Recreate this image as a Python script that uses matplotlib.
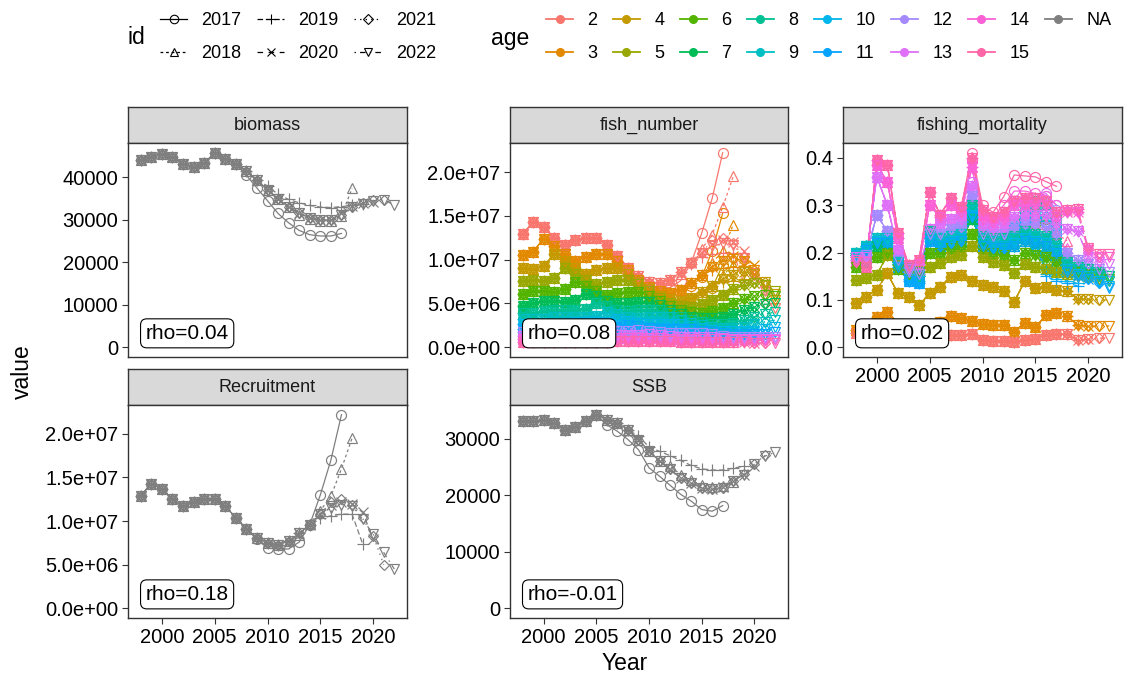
import matplotlib
matplotlib.use('Agg')
import matplotlib.pyplot as plt
from matplotlib.lines import Line2D
from matplotlib.ticker import FuncFormatter

plt.rcParams['font.family'] = ['Liberation Sans', 'DejaVu Sans']
plt.rcParams['lines.scale_dashes'] = False

# ---------------- data ----------------
years = list(range(1998, 2023))
peels = [2017, 2018, 2019, 2020, 2021, 2022]
ages = list(range(2, 16))

rho_text = {'biomass': 'rho=0.04', 'fish_number': 'rho=0.08',
            'fishing_mortality': 'rho=0.02', 'Recruitment': 'rho=0.18',
            'SSB': 'rho=-0.01'}

# base = 2022 run (1998-2022); tails = values of a peel for its last years
biomass_base = [44100, 44900, 45400, 44800, 43200, 42400, 43300, 45800, 44300, 43200,
                41500, 39300, 37000, 34900, 33000, 31500, 30500, 29900, 29900, 31200,
                33000, 33800, 34500, 34700, 33500]
biomass_tails = {
    2017: [40500, 37500, 34500, 31500, 29300, 27500, 26500, 26200, 26200, 26800],
    2018: [33000, 31200, 30200, 29800, 29800, 31000, 37400],
    2019: [38000, 36000, 34800, 34000, 33400, 33000, 32900, 33100, 33400, 33800],
    2020: [30000, 31500, 33200, 33900, 34300],
    2021: [33900, 34600, 34600],
}

ssb_base = [33100, 33200, 33300, 32800, 31650, 32200, 33100, 34300, 33400, 32800,
            31650, 29900, 27800, 26060, 24600, 23100, 22200, 21350, 21060, 21350,
            22500, 23700, 25500, 26950, 27650]
ssb_tails = {
    2017: [32500, 31350, 29900, 28100, 24900, 23400, 21800, 20200, 19000, 17500, 17200, 18200],
    2018: [25200, 23700, 22700, 21800, 21500, 21700, 22300],
    2019: [30500, 28600, 27800, 27050, 26200, 25300, 24700, 24500, 24500, 24800, 25200],
    2020: [21500, 22600, 23600, 25200],
    2021: [23800, 25500, 27100],
}

# recruitment (= fish_number at age 2), millions
recruit_base = [12.9, 14.3, 13.7, 12.5, 11.7, 12.2, 12.5, 12.5, 11.7, 10.4, 9.1, 8.1, 7.5,
                7.3, 7.7, 8.6, 9.6, 10.8, 11.5, 11.9, 11.7, 10.2, 8.5, 6.4, 4.5]
recruit_tails = {
    2017: [7.9, 6.9, 6.8, 6.8, 7.6, 9.6, 13.0, 17.0, 22.2],
    2018: [8.4, 9.7, 11.2, 12.85, 16.0, 19.5],
    2019: [9.5, 10.3, 10.6, 10.8, 10.8, 7.4],
    2020: [11.8, 12.2, 12.0, 11.0, 8.0],
    2021: [12.2, 12.5, 11.9, 10.3, 8.3, 5.0],
}

# fish numbers at age, millions (ages 3-15)
fish_base = {
    3: [10.5, 10.9, 12.4, 11.6, 10.6, 9.9, 10.3, 10.6, 10.6, 9.9, 8.8, 7.7, 6.9, 6.4, 6.2, 6.5, 7.3, 8.2, 9.2, 9.8, 10.1, 9.9, 8.8, 7.1, 5.4],
    4: [9.0, 8.9, 9.3, 10.6, 9.9, 9.0, 8.4, 8.8, 9.0, 9.0, 8.4, 7.5, 6.6, 5.9, 5.5, 5.3, 5.6, 6.3, 7.0, 7.8, 8.3, 8.6, 8.4, 7.5, 6.1],
    5: [7.6, 7.7, 7.6, 7.9, 9.0, 8.4, 7.7, 7.2, 7.5, 7.7, 7.7, 7.2, 6.4, 5.6, 5.0, 4.7, 4.6, 4.9, 5.4, 6.0, 6.6, 7.1, 7.3, 7.1, 6.4],
    6: [6.1, 6.4, 6.4, 6.3, 6.6, 7.4, 7.0, 6.4, 6.0, 6.2, 6.3, 6.3, 5.9, 5.3, 4.7, 4.2, 4.0, 3.9, 4.1, 4.5, 5.0, 5.5, 5.9, 6.0, 5.8],
    7: [4.7, 5.0, 5.3, 5.3, 5.2, 5.4, 6.1, 5.8, 5.3, 5.0, 5.1, 5.2, 5.2, 4.8, 4.3, 3.8, 3.5, 3.3, 3.3, 3.4, 3.8, 4.2, 4.6, 4.9, 5.0],
    8: [3.9, 3.9, 4.1, 4.3, 4.3, 4.3, 4.4, 5.0, 4.7, 4.3, 4.1, 4.2, 4.2, 4.2, 3.9, 3.5, 3.1, 2.9, 2.7, 2.7, 2.8, 3.1, 3.5, 3.8, 4.0],
    9: [3.2, 3.2, 3.2, 3.4, 3.5, 3.5, 3.5, 3.6, 4.0, 3.8, 3.5, 3.3, 3.4, 3.4, 3.4, 3.1, 2.8, 2.5, 2.3, 2.2, 2.2, 2.3, 2.6, 2.9, 3.1],
    10: [2.6, 2.6, 2.6, 2.6, 2.8, 2.9, 2.9, 2.9, 2.9, 3.2, 3.0, 2.8, 2.6, 2.7, 2.7, 2.7, 2.4, 2.2, 2.0, 1.8, 1.8, 1.8, 1.9, 2.1, 2.3],
    11: [2.1, 2.1, 2.1, 2.1, 2.1, 2.2, 2.3, 2.3, 2.3, 2.3, 2.5, 2.4, 2.2, 2.1, 2.1, 2.1, 2.1, 1.9, 1.7, 1.6, 1.5, 1.5, 1.5, 1.5, 1.7],
    12: [1.7, 1.7, 1.7, 1.7, 1.7, 1.7, 1.8, 1.8, 1.8, 1.8, 1.8, 2.0, 1.9, 1.7, 1.6, 1.6, 1.6, 1.6, 1.5, 1.3, 1.2, 1.2, 1.2, 1.2, 1.2],
    13: [1.3, 1.3, 1.3, 1.3, 1.3, 1.3, 1.3, 1.4, 1.4, 1.4, 1.4, 1.4, 1.5, 1.4, 1.3, 1.2, 1.2, 1.2, 1.2, 1.1, 1.0, 1.0, 1.0, 1.0, 1.0],
    14: [1.0, 1.0, 1.0, 1.0, 1.0, 1.0, 1.0, 1.0, 1.1, 1.1, 1.1, 1.1, 1.1, 1.1, 1.0, 1.0, 0.9, 0.9, 0.9, 0.9, 0.8, 0.8, 0.8, 0.8, 0.8],
    15: [0.6, 0.6, 0.6, 0.6, 0.6, 0.6, 0.6, 0.6, 0.6, 0.7, 0.7, 0.7, 0.7, 0.7, 0.7, 0.6, 0.6, 0.6, 0.6, 0.6, 0.6, 0.6, 0.5, 0.5, 0.5],
}
fish_tails = {
    3: {2017: [7.0, 8.0, 11.0, 15.3], 2018: [8.2, 9.6, 11.0, 14.0],
        2019: [8.8, 9.0, 9.2, 9.3], 2020: [10.0, 10.4, 10.2, 9.4]},
    4: {2017: [6.0, 6.8, 9.4], 2018: [7.0, 8.2, 9.4], 2019: [7.5, 7.6, 7.8]},
}

# fishing mortality at age
f_base = {
    2: [.030, .025, .028, .030, .022, .020, .020, .025, .024, .026, .025, .028, .015, .014, .013, .012, .016, .018, .026, .028, .028, .015, .017, .019, .020],
    3: [.037, .047, .065, .075, .050, .044, .044, .050, .054, .066, .061, .055, .049, .048, .047, .033, .052, .042, .068, .072, .066, .047, .044, .045, .045],
    4: [.094, .107, .122, .156, .114, .107, .089, .114, .128, .149, .153, .139, .132, .128, .118, .096, .140, .125, .128, .121, .118, .103, .101, .100, .100],
    5: [.142, .146, .153, .195, .174, .170, .162, .170, .177, .191, .195, .215, .190, .180, .174, .156, .175, .170, .165, .160, .155, .150, .148, .144, .140],
    6: [.170, .180, .190, .200, .165, .155, .150, .200, .200, .210, .215, .240, .210, .200, .195, .185, .200, .195, .190, .180, .165, .160, .155, .150, .145],
    7: [.195, .210, .215, .220, .175, .165, .160, .230, .220, .225, .230, .270, .225, .215, .215, .215, .225, .220, .215, .205, .175, .165, .160, .155, .150],
    8: [.200, .215, .225, .225, .180, .165, .155, .245, .230, .235, .240, .300, .235, .230, .230, .235, .245, .240, .235, .220, .180, .170, .165, .160, .150],
    9: [.200, .215, .230, .230, .180, .160, .150, .240, .230, .235, .240, .290, .230, .225, .225, .230, .240, .235, .230, .215, .175, .165, .160, .150, .140],
    10: [.195, .210, .225, .225, .175, .145, .140, .230, .220, .225, .230, .280, .220, .215, .215, .220, .230, .225, .220, .205, .165, .155, .150, .140, .130],
    11: [.190, .205, .220, .220, .170, .140, .135, .225, .215, .220, .225, .275, .215, .210, .210, .215, .225, .220, .215, .200, .160, .150, .145, .135, .125],
    12: [.185, .195, .280, .245, .185, .160, .155, .240, .240, .250, .255, .320, .240, .235, .240, .255, .260, .260, .255, .240, .200, .185, .175, .165, .160],
    13: [.190, .190, .360, .300, .205, .165, .165, .250, .260, .270, .270, .340, .255, .250, .255, .275, .280, .280, .280, .260, .250, .245, .190, .180, .175],
    14: [.185, .180, .385, .350, .230, .170, .175, .300, .275, .300, .285, .380, .270, .265, .270, .300, .300, .300, .300, .275, .285, .285, .205, .190, .190],
    15: [.180, .170, .395, .385, .242, .174, .185, .327, .280, .315, .297, .400, .290, .276, .285, .310, .315, .315, .310, .285, .290, .293, .210, .197, .197],
}
f_tails = {
    6: {2017: [.230, .250, .260, .270, .250], 2018: [.190, .180, .170, .160]},
    7: {2017: [.260, .290, .300, .305, .275], 2018: [.215, .205, .195, .185]},
    8: {2017: [.270, .300, .310, .300, .270], 2018: [.225, .215, .200, .190]},
    9: {2017: [.260, .285, .290, .290, .260], 2018: [.220, .210, .195, .185],
        2019: [.165, .155, .150, .145]},
    10: {2017: [.255, .270, .280, .275, .250], 2018: [.210, .200, .185, .175],
         2019: [.155, .145, .140, .135]},
    11: {2017: [.250, .260, .270, .265, .240], 2018: [.205, .195, .180, .170],
         2019: [.150, .140, .135, .130]},
    12: {2017: [.330, .255, .248, .265, .300, .300, .305, .320, .290], 2018: [.230, .220, .205, .190]},
    13: {2017: [.350, .270, .262, .280, .310, .315, .315, .325, .300], 2018: [.245, .235, .215, .200]},
    14: {2017: [.395, .285, .275, .300, .330, .330, .325, .320, .300], 2018: [.260, .245, .225, .210]},
    15: {2017: [.411, .300, .285, .318, .364, .362, .360, .350, .340], 2018: [.280, .260, .240, .225]},
}

age_colors = ['#F8766D', '#E38900', '#C49A00', '#99A800', '#53B400', '#00BC56', '#00C094',
              '#00BFC4', '#00B6EB', '#06A4FF', '#A58AFF', '#DF70F8', '#FB61D7', '#FF66A8']
na_color = '#7F7F7F'

shapes = {2017: 'o', 2018: '^', 2019: '+', 2020: 'x', 2021: 'D', 2022: 'v'}
shape_size = {2017: 7.2, 2018: 7.2, 2019: 8.2, 2020: 6.6, 2021: 5.6, 2022: 7.2}
linetypes = {2017: '-', 2018: (0, (2, 2)), 2019: (0, (4, 2)), 2020: (0, (4, 4)),
             2021: (0, (1, 3)), 2022: (0, (1, 3, 4, 3))}


def peel_series(base, tails, peel):
    n = peel - years[0] + 1
    vals = list(base[:n])
    if tails and peel in tails:
        t = tails[peel]
        vals[n - len(t):] = t
    return vals


def groups_single(base, tails, scale=1.0):
    out = []
    for p in peels:
        out.append((p, na_color, [v * scale for v in peel_series(base, tails, p)]))
    return out


def groups_age(bases, tails_by_age, scale=1.0):
    out = []
    for p in peels:
        for i, a in enumerate(ages):
            v = peel_series(bases[a], tails_by_age.get(a), p)
            out.append((p, age_colors[i], [x * scale for x in v]))
    return out


fish_all = dict(fish_base)
fish_all[2] = recruit_base
fish_tails_all = dict(fish_tails)
fish_tails_all[2] = recruit_tails

# ---------------- figure ----------------
W, H = 1129, 678
fig = plt.figure(figsize=(W / 100, H / 100), dpi=100)


def px_axes(left, top, width, height):
    return fig.add_axes([left / W, 1 - (top + height) / H, width / W, height / H])


sci = FuncFormatter(lambda v, p: f"{v:.1e}")
plain = FuncFormatter(lambda v, p: f"{v:.0f}")
onedec = FuncFormatter(lambda v, p: f"{v:.1f}")

panels = [
    ('biomass', 128, 107, 279, groups_single(biomass_base, biomass_tails),
     [0, 10000, 20000, 30000, 40000], plain, False),
    ('fish_number', 510, 107, 278, groups_age(fish_all, fish_tails_all, 1e6),
     [0, 5e6, 1e7, 1.5e7, 2e7], sci, False),
    ('fishing_mortality', 843, 107, 279, groups_age(f_base, f_tails),
     [0, 0.1, 0.2, 0.3, 0.4], onedec, True),
    ('Recruitment', 128, 369, 279, groups_single(recruit_base, recruit_tails, 1e6),
     [0, 5e6, 1e7, 1.5e7, 2e7], sci, True),
    ('SSB', 510, 369, 278, groups_single(ssb_base, ssb_tails),
     [0, 10000, 20000, 30000], plain, True),
]

edge = '#333333'
for name, left, top, width, groups, yticks, fmt, show_x in panels:
    strip_h = 36
    panel_h = 214 if top < 200 else 213
    sax = px_axes(left, top, width, strip_h)
    sax.set_facecolor('#D9D9D9')
    sax.set_xticks([])
    sax.set_yticks([])
    for s in sax.spines.values():
        s.set_color(edge)
        s.set_linewidth(1.0)
    sax.text(0.5, 0.5, name, transform=sax.transAxes, ha='center', va='center',
             fontsize=13, color='#1A1A1A')

    ax = px_axes(left, top + strip_h, width, panel_h)
    for p, col, yv in groups:
        ax.plot(years[:len(yv)], yv, color=col, ls=linetypes[p], lw=0.9)
    for p, col, yv in groups:
        ax.plot(years[:len(yv)], yv, ls='none', marker=shapes[p], ms=shape_size[p],
                mfc='none', mec=col, mew=0.85)

    hi = max(max(yv) for _, _, yv in groups)
    ax.set_ylim(-0.05 * hi, 1.05 * hi)
    ax.set_xlim(1996.8, 2023.2)
    ax.set_yticks(yticks)
    ax.yaxis.set_major_formatter(fmt)
    ax.set_xticks([2000, 2005, 2010, 2015, 2020])
    for s in ax.spines.values():
        s.set_color(edge)
        s.set_linewidth(1.0)
    ax.tick_params(direction='out', length=4, width=0.8, color=edge,
                   labelsize=14.5, labelcolor='black', pad=3)
    if not show_x:
        ax.tick_params(axis='x', bottom=False, labelbottom=False)

    ax.annotate(rho_text[name], xy=(1998, 0), xycoords='data',
                xytext=(3.5, 3.2), textcoords='offset points',
                ha='left', va='bottom', fontsize=15,
                bbox=dict(boxstyle='round,pad=0.24,rounding_size=0.3',
                          fc='white', ec='black', lw=0.8))

# axis titles
fig.text(625 / W, 1 - 663 / H, 'Year', ha='center', va='center', fontsize=16.5)
fig.text(22 / W, 1 - 372 / H, 'value', ha='center', va='center', fontsize=16.5,
         rotation=90)

# legends
id_handles = [Line2D([], [], color='black', ls=linetypes[p], lw=0.9, marker=shapes[p],
                     ms=shape_size[p] * 0.85, mfc='none', mec='black', mew=0.8)
              for p in peels]
leg1 = fig.legend(id_handles, [str(p) for p in peels], ncol=3, loc='upper left',
                  bbox_to_anchor=(160 / W, 1 - 12 / H), frameon=False, fontsize=13,
                  handlelength=1.5, handletextpad=0.8, columnspacing=0.85,
                  labelspacing=0.9, borderpad=0, borderaxespad=0)
fig.text(136 / W, 1 - 38 / H, 'id', ha='center', va='center', fontsize=16.5)

age_labels = [str(a) for a in ages] + ['NA']
age_cols = age_colors + [na_color]
age_handles = [Line2D([], [], color=c, lw=1.3, marker='o', ms=5.5, mfc=c, mec=c)
               for c in age_cols]
leg2 = fig.legend(age_handles, age_labels, ncol=8, loc='upper left',
                  bbox_to_anchor=(546 / W, 1 - 12 / H), frameon=False, fontsize=13,
                  handlelength=1.5, handletextpad=0.8, columnspacing=0.85,
                  labelspacing=0.9, borderpad=0, borderaxespad=0)
fig.text(510 / W, 1 - 38 / H, 'age', ha='center', va='center', fontsize=16.5)

fig.savefig('out.png', dpi=100)
